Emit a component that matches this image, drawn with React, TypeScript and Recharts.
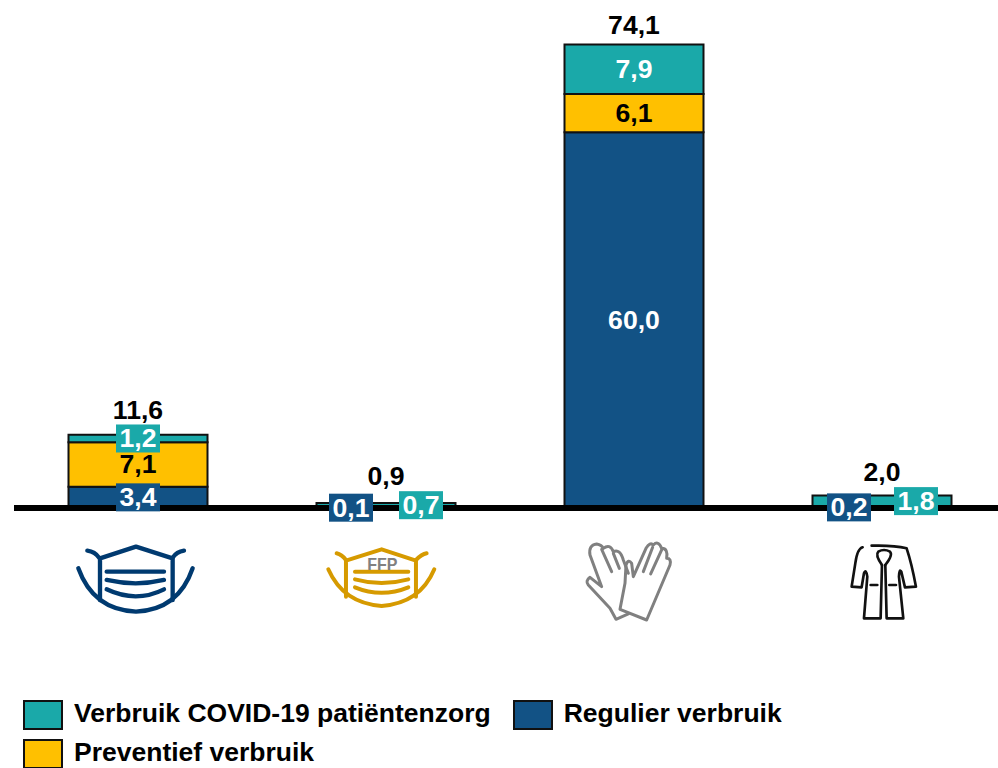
import { BarChart, Bar, XAxis, YAxis, LabelList, Legend } from 'recharts';

const categories = ['mondmasker', 'ffp', 'handschoenen', 'schort'];
const regulier = [3.4, 0.1, 60.0, 0.2];
const preventief = [7.1, 0, 6.1, 0];
const covid = [1.2, 0.7, 7.9, 1.8];
const totals = [11.6, 0.9, 74.1, 2.0];

const legendOrder = ['Verbruik COVID-19 patiëntenzorg', 'Regulier verbruik', 'Preventief verbruik'];

// label nudges per category, the small bars have their labels pushed aside
const regulierShift = [{ dx: 0, dy: 0 }, { dx: -35, dy: 0 }, { dx: 0, dy: 0 }, { dx: -33, dy: 0 }];
const covidShift = [{ dx: 0, dy: 0 }, { dx: 35, dy: 0 }, { dx: 0, dy: 0 }, { dx: 34, dy: 0 }];
const totalShift = [-25, -27, -20, -23];

const BLUE = '#125285';
const YELLOW = '#FFC000';
const TEAL = '#1AA9A9';
const FONT = '"Liberation Sans", Arial, sans-serif';
const LABEL_SIZE = 26.6;

const data = categories.map((name, i) => ({
  name,
  regulier: regulier[i],
  preventief: preventief[i],
  covid: covid[i],
  total: totals[i],
}));

const fmt = (v: number) => v.toFixed(1).replace('.', ',');

function BoxLabel({ x, y, width, height, value, index, fill, shift }: any) {
  if (!value) return null;
  const cx = x + width / 2 + shift[index].dx;
  const cy = y + height / 2 + shift[index].dy;
  // the labels sit on a filled box only where the bar is too thin to hold them
  const boxed = height < 30;
  return (
    <g>
      {boxed && <rect x={cx - 22} y={cy - 14} width={44} height={28} fill={fill} />}
      <text x={cx} y={cy} dy={9} textAnchor="middle" fontFamily={FONT} fontWeight={700} fontSize={LABEL_SIZE} fill="#fff">
        {fmt(value)}
      </text>
    </g>
  );
}

function PlainLabel({ x, y, width, height, value }: any) {
  if (!value) return null;
  return (
    <text x={x + width / 2} y={y + height / 2} dy={9} textAnchor="middle" fontFamily={FONT} fontWeight={700} fontSize={LABEL_SIZE} fill="#000">
      {fmt(value)}
    </text>
  );
}

function TotalLabel({ x, y, width, value, index }: any) {
  return (
    <text x={x + width / 2} y={y + totalShift[index]} dy={9} textAnchor="middle" fontFamily={FONT} fontWeight={700} fontSize={LABEL_SIZE} fill="#000">
      {fmt(value)}
    </text>
  );
}

function Mask({ color, width }: { color: string; width: number }) {
  return (
    <g fill="none" stroke={color} strokeWidth={width} strokeLinecap="round" strokeLinejoin="round">
      <path d="M150 630 V505 L258 470 L368 505 V630" />
      <path d="M85 535 Q130 660 258 665 Q385 660 428 535" />
      <path d="M112 482 Q135 485 147 503" />
      <path d="M402 482 Q380 485 368 503" />
      <path d="M170 545 H342" />
      <path d="M170 570 Q258 590 342 570" />
      <path d="M170 598 Q258 640 342 598" />
    </g>
  );
}

function FfpMask() {
  return (
    <g>
      <g fill="none" stroke="#D69A00" strokeWidth={12} strokeLinecap="round" strokeLinejoin="round">
        <path d="M888 620 V512 L995 478 L1098 512 V620" />
        <path d="M835 538 Q880 640 995 648 Q1110 640 1153 538" />
        <path d="M860 490 Q875 493 888 510" />
        <path d="M1130 490 Q1115 493 1098 510" />
        <path d="M915 545 H1075" />
        <path d="M915 568 Q995 590 1075 568" />
        <path d="M915 592 Q995 625 1075 592" />
      </g>
      <text x={997} y={541} textAnchor="middle" fontFamily={FONT} fontWeight={700} fontSize={48} fill="#808080">
        FFP
      </text>
    </g>
  );
}

function Gloves() {
  return (
    <g fill="none" stroke="#808080" strokeWidth={9} strokeLinecap="round" strokeLinejoin="round">
      <path d="M205 432 L168 448 L150 415 L85 345 Q75 333 90 322 L125 350 L90 255 Q85 225 110 222 Q125 225 130 235 Q150 220 160 245 Q180 235 190 270 L205 310" />
      <path d="M180 418 L195 340 L198 285 Q205 265 215 280 L220 320 L258 235 Q270 215 280 225 Q295 210 305 235 Q325 235 320 265 Q335 265 330 285 L260 450 Z" />
      <path d="M125 238 L155 305" />
      <path d="M160 250 L178 295" />
      <path d="M278 232 L250 305" />
      <path d="M305 240 L272 312" />
    </g>
  );
}

function Gown() {
  return (
    <g fill="none" stroke="#111" strokeWidth={8} strokeLinecap="round" strokeLinejoin="round">
      <path d="M908 232 Q892 236 886 280 L875 350 L905 352 L912 310 Q918 295 922 320 L912 445 H962 L966 285" />
      <path d="M935 227 Q1000 225 1040 235 Q1055 280 1068 350 L1035 352 L1024 305 Q1018 295 1017 320 L1030 445 H980 L976 285" />
      <path d="M966 285 Q945 255 955 245 Q972 235 990 245 Q1000 255 976 285" />
      <path d="M932 345 H952" />
      <path d="M988 345 H1008" />
    </g>
  );
}

function IconTick({ x, payload }: any) {
  const name = payload.value;
  if (name === 'mondmasker') {
    return (
      <g transform={`translate(${x - 138 + 50}, 390) scale(0.3333)`}>
        <Mask color="#003A70" width={13} />
      </g>
    );
  }
  if (name === 'ffp') {
    return (
      <g transform={`translate(${x - 386 + 50}, 390) scale(0.3333)`}>
        <FfpMask />
      </g>
    );
  }
  if (name === 'handschoenen') {
    return (
      <g transform={`translate(${x - 634 + 560}, 470) scale(0.3333)`}>
        <Gloves />
      </g>
    );
  }
  return (
    <g transform={`translate(${x - 882 + 560}, 470) scale(0.3333)`}>
      <Gown />
    </g>
  );
}

function LegendBox({ payload }: any) {
  const items = legendOrder.map((label) => (payload || []).find((p: any) => p.value === label)).filter(Boolean);
  return (
    <div style={{ display: 'flex', flexWrap: 'wrap', columnGap: 22, rowGap: 9 }}>
      {items.map((p: any) => (
        <div key={p.value} style={{ display: 'flex', alignItems: 'center', height: 30 }}>
          <span
            style={{
              display: 'inline-block',
              boxSizing: 'border-box',
              width: 40,
              height: 30,
              background: p.color,
              border: '2px solid #111',
              marginRight: 11,
            }}
          />
          <span
            style={{
              position: 'relative',
              top: -2,
              fontFamily: FONT,
              fontWeight: 700,
              fontSize: 26.5,
              color: '#000',
              whiteSpace: 'nowrap',
            }}
          >
            {p.value}
          </span>
        </div>
      ))}
    </div>
  );
}

export default function App() {
  return (
    <div style={{ position: 'absolute', left: 0, top: 0, width: 998, height: 768, overflow: 'hidden', background: '#fff' }}>
      <BarChart
        width={1006}
        height={768}
        data={data}
        margin={{ top: 7, right: 0, bottom: 0, left: 14 }}
        barCategoryGap={54.5}
      >
        <YAxis hide domain={[0, 80]} />
        <Bar
          dataKey="regulier"
          name="Regulier verbruik"
          stackId="a"
          fill={BLUE}
          stroke="#111"
          strokeWidth={2}
          isAnimationActive={false}
        >
          <LabelList dataKey="regulier" content={(p: any) => <BoxLabel {...p} fill={BLUE} shift={regulierShift} />} />
        </Bar>
        <Bar
          dataKey="preventief"
          name="Preventief verbruik"
          stackId="a"
          fill={YELLOW}
          stroke="#111"
          strokeWidth={2}
          isAnimationActive={false}
        >
          <LabelList dataKey="preventief" content={(p: any) => <PlainLabel {...p} />} />
        </Bar>
        <Bar
          dataKey="covid"
          name="Verbruik COVID-19 patiëntenzorg"
          stackId="a"
          fill={TEAL}
          stroke="#111"
          strokeWidth={2}
          isAnimationActive={false}
        >
          <LabelList dataKey="covid" content={(p: any) => <BoxLabel {...p} fill={TEAL} shift={covidShift} />} />
          <LabelList dataKey="total" content={(p: any) => <TotalLabel {...p} />} />
        </Bar>
        <XAxis
          dataKey="name"
          height={260}
          interval={0}
          axisLine={{ stroke: '#000', strokeWidth: 6 }}
          tickLine={false}
          tick={<IconTick />}
        />
        <Legend
          layout="horizontal"
          align="center"
          verticalAlign="middle"
          wrapperStyle={{ left: 23, top: 700, width: 800, height: 70 }}
          content={<LegendBox />}
        />
      </BarChart>
    </div>
  );
}
